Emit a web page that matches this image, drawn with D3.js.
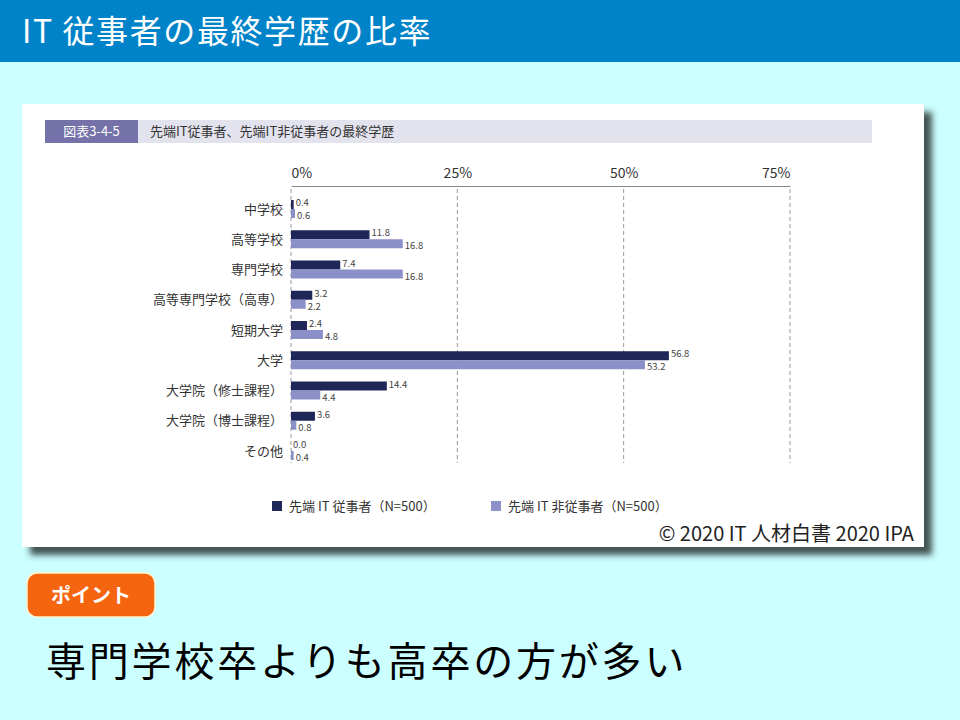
<!DOCTYPE html>
<html><head><meta charset="utf-8">
<script src="https://cdn.jsdelivr.net/npm/d3@7"></script>
<style>
html,body{margin:0;padding:0;background:#CCFFFF;}
svg{display:block;}
text{font-family:"Noto Sans CJK JP","Noto Sans",sans-serif;}
</style></head>
<body>
<script>
const categories = ["中学校","高等学校","専門学校","高等専門学校（高専）","短期大学","大学","大学院（修士課程）","大学院（博士課程）","その他"];
const seriesNames = ["先端 IT 従事者（N=500）","先端 IT 非従事者（N=500）"];
const itWorkers = [0.4, 11.8, 7.4, 3.2, 2.4, 56.8, 14.4, 3.6, 0.0];
const nonItWorkers = [0.6, 16.8, 16.8, 2.2, 4.8, 53.2, 4.4, 0.8, 0.4];
const tickValues = [0, 25, 50, 75];
const tickLabels = ["0%","25%","50%","75%"];
const colors = ["#1E2758","#8C90C8"];

const W = 960, H = 720;
const svg = d3.select("body").append("svg").attr("width", W).attr("height", H);

const defs = svg.append("defs");
const f = defs.append("filter").attr("id","sh").attr("x","-5%").attr("y","-5%").attr("width","115%").attr("height","120%");
f.append("feDropShadow").attr("dx",8).attr("dy",8).attr("stdDeviation",3).attr("flood-color","#2a3636").attr("flood-opacity",0.85);

// background
svg.append("rect").attr("width",W).attr("height",H).attr("fill","#CCFFFF");
// header
svg.append("rect").attr("width",W).attr("height",62).attr("fill","#0083C8");
svg.append("text").attr("x",22).attr("y",43).attr("fill","#fff").attr("font-size",32)
  .attr("letter-spacing",1.6).text("IT 従事者の最終学歴の比率");

// card
svg.append("rect").attr("x",22).attr("y",104).attr("width",902).attr("height",443).attr("fill","#fff").attr("filter","url(#sh)");

// figure header
svg.append("rect").attr("x",45).attr("y",120).attr("width",93).attr("height",23).attr("fill","#7472A9");
svg.append("rect").attr("x",138).attr("y",120).attr("width",734).attr("height",23).attr("fill","#E3E3EE");
svg.append("text").attr("x",91.5).attr("y",136).attr("text-anchor","middle").attr("fill","#fff").attr("font-size",13).text("図表3-4-5");
svg.append("text").attr("x",150).attr("y",136).attr("fill","#333").attr("font-size",13).text("先端IT従事者、先端IT非従事者の最終学歴");

// scales
const x = d3.scaleLinear().domain([0,75]).range([291,790]);
const y = d3.scalePoint().domain(categories).range([209,451]);
const bh = 9;

// grid dashed
const g = svg.append("g");
g.selectAll("line.grid").data(tickValues).join("line").attr("class","grid")
  .attr("x1",d=>x(d)).attr("x2",d=>x(d)).attr("y1",189).attr("y2",463)
  .attr("stroke","#999").attr("stroke-width",1).attr("stroke-dasharray","4,3");

// top axis
const axis = d3.axisTop(x).tickValues(tickValues).tickSize(0).tickPadding(8)
  .tickFormat((d,i)=>tickLabels[i]);
const ax = svg.append("g").attr("transform","translate(0,186)").call(axis);
ax.select(".domain").attr("stroke","#888").attr("stroke-width",1.2);
ax.selectAll("text").attr("font-size",14).attr("fill","#333")
  .attr("font-family","'Liberation Sans',Arial,sans-serif")
  .attr("text-anchor",(d,i)=> i===0 ? "start" : (i===tickValues.length-1 ? "end" : "middle"));

// category labels
svg.append("g").selectAll("text").data(categories).join("text")
  .attr("x",283).attr("y",d=>y(d)+4.5).attr("text-anchor","end")
  .attr("font-size",13).attr("fill","#333").text(d=>d);

// bars
const rows = categories.map((c,i)=>({c, a:itWorkers[i], b:nonItWorkers[i]}));
const bars = svg.append("g");
bars.selectAll("rect.a").data(rows).join("rect").attr("class","a")
  .attr("x",x(0)).attr("y",d=>y(d.c)-bh).attr("width",d=>x(d.a)-x(0)).attr("height",bh).attr("fill",colors[0]);
bars.selectAll("rect.b").data(rows).join("rect").attr("class","b")
  .attr("x",x(0)).attr("y",d=>y(d.c)).attr("width",d=>x(d.b)-x(0)).attr("height",bh).attr("fill",colors[1]);

// value labels
const lf = "'Liberation Sans',Arial,sans-serif";
bars.selectAll("text.a").data(rows).join("text").attr("class","a")
  .attr("x",d=>x(d.a)+2).attr("y",d=>y(d.c)-3).attr("font-size",9.5).attr("fill","#444")
  .attr("font-family",lf).text(d=>d.a.toFixed(1));
bars.selectAll("text.b").data(rows).join("text").attr("class","b")
  .attr("x",d=>x(d.b)+2).attr("y",d=>y(d.c)+10).attr("font-size",9.5).attr("fill","#444")
  .attr("font-family",lf).text(d=>d.b.toFixed(1));

// legend
const legX = [272, 491];
const leg = svg.append("g");
seriesNames.forEach((n,i)=>{
  leg.append("rect").attr("x",legX[i]).attr("y",501).attr("width",10).attr("height",10).attr("fill",colors[i]);
  leg.append("text").attr("x",legX[i]+17).attr("y",511).attr("font-size",13).attr("fill","#333").text(n);
});

// copyright
svg.append("text").attr("x",914).attr("y",541).attr("text-anchor","end").attr("font-size",20)
  .attr("fill","#222").text("© 2020 IT 人材白書 2020 IPA");

// point badge
svg.append("rect").attr("x",27).attr("y",573).attr("width",128).attr("height",44).attr("rx",10)
  .attr("fill","#F5650F").attr("stroke","#FFF2CC").attr("stroke-width",1.5);
svg.append("text").attr("x",91).attr("y",603).attr("text-anchor","middle").attr("fill","#fff")
  .attr("font-size",20).attr("font-weight","bold").text("ポイント");

// key message
svg.append("text").attr("x",46).attr("y",676).attr("font-size",40).attr("letter-spacing",2.8)
  .attr("fill","#000").text("専門学校卒よりも高卒の方が多い");
</script>
</body></html>
